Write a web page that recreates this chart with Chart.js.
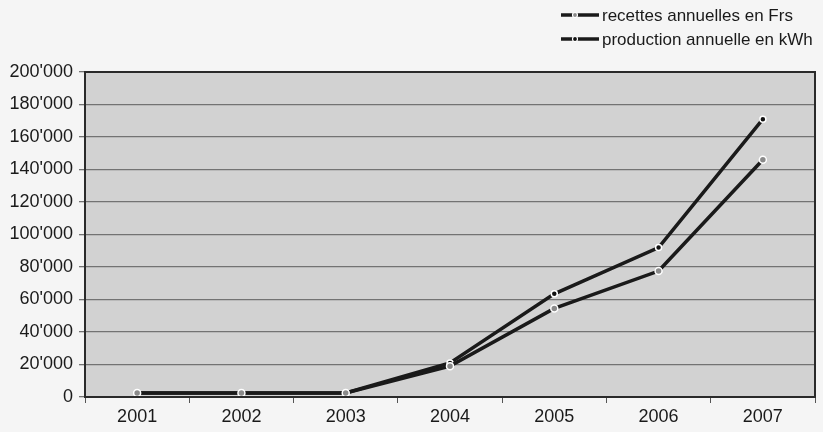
<!DOCTYPE html>
<html>
<head>
<meta charset="utf-8">
<script src="https://cdn.jsdelivr.net/npm/chart.js@4/dist/chart.umd.min.js"></script>
<style>
  html, body { margin: 0; padding: 0; background: #f5f5f5; }
  #wrap { width: 823px; height: 432px; }
</style>
</head>
<body>
<div id="wrap"><canvas id="chart" width="823" height="432"></canvas></div>
<script>
const years = ["2001", "2002", "2003", "2004", "2005", "2006", "2007"];
const recettes = [2500, 2500, 2500, 19000, 54500, 77500, 146000];
const production = [2500, 2500, 2500, 21000, 63500, 92000, 171000];
const seriesNames = ["recettes annuelles en Frs", "production annuelle en kWh"];
const yMax = 200000;
const yStep = 20000;

// 200000 -> 200'000
const fmt = (v) => v.toString().replace(/\B(?=(\d{3})+(?!\d))/g, "'");

// plot background + frame
const plotFrame = {
  id: "plotFrame",
  beforeDraw(chart) {
    const { ctx, chartArea: a } = chart;
    ctx.save();
    ctx.fillStyle = "#d2d2d2";
    ctx.fillRect(a.left, a.top, a.right - a.left, a.bottom - a.top);
    ctx.restore();
  },
  afterDatasetsDraw(chart) {
    const { ctx, chartArea: a } = chart;
    ctx.save();
    ctx.strokeStyle = "#2a2a2a";
    ctx.lineWidth = 2;
    ctx.strokeRect(a.left, a.top, a.right - a.left, a.bottom - a.top);
    ctx.restore();
  },
};

// legend stacked in two rows top right
const stackedLegend = {
  id: "stackedLegend",
  afterDraw(chart) {
    const { ctx } = chart;
    ctx.save();
    ctx.font = "17px 'Liberation Sans', Arial, sans-serif";
    ctx.textBaseline = "middle";
    chart.data.datasets.forEach((ds, i) => {
      const y = 15 + i * 24;
      ctx.strokeStyle = ds.borderColor;
      ctx.lineWidth = 3.5;
      ctx.beginPath();
      ctx.moveTo(561, y);
      ctx.lineTo(599, y);
      ctx.stroke();
      ctx.beginPath();
      ctx.arc(575, y, 2.5, 0, Math.PI * 2);
      ctx.fillStyle = ds.pointBackgroundColor;
      ctx.fill();
      ctx.lineWidth = 1.2;
      ctx.strokeStyle = "#ffffff";
      ctx.stroke();
      ctx.fillStyle = "#1a1a1a";
      ctx.fillText(ds.label, 602, y + 1);
    });
    ctx.restore();
  },
};

const ctx = document.getElementById("chart").getContext("2d");

new Chart(ctx, {
  type: "line",
  data: {
    labels: years,
    datasets: [
      {
        label: seriesNames[0],
        data: recettes,
        borderColor: "#1a1a1a",
        borderWidth: 3.5,
        pointRadius: 3.5,
        pointBackgroundColor: "#8a8a8a",
        pointBorderColor: "#ffffff",
        pointBorderWidth: 1.5,
        tension: 0,
        fill: false,
      },
      {
        label: seriesNames[1],
        data: production,
        borderColor: "#1a1a1a",
        borderWidth: 3.5,
        pointRadius: 3,
        pointBackgroundColor: "#111111",
        pointBorderColor: "#ffffff",
        pointBorderWidth: 1.5,
        tension: 0,
        fill: false,
      },
    ],
  },
  options: {
    responsive: false,
    animation: false,
    layout: { padding: { top: 72, right: 8, left: 0, bottom: 0 } },
    plugins: {
      legend: { display: false },
      tooltip: { enabled: false },
    },
    scales: {
      x: {
        offset: true,
        grid: {
          offset: true,
          drawOnChartArea: false,
          color: "#555555",
          tickLength: 6,
        },
        border: { display: false },
        ticks: {
          color: "#1a1a1a",
          padding: 3,
          font: { family: "'Liberation Sans', Arial, sans-serif", size: 18 },
        },
        afterFit(scale) {
          scale.height = 35;
        },
      },
      y: {
        min: 0,
        max: yMax,
        grid: {
          color: "#737373",
          lineWidth: 1.3,
          tickLength: 6,
        },
        border: { display: false },
        ticks: {
          stepSize: yStep,
          color: "#1a1a1a",
          padding: 6,
          font: { family: "'Liberation Sans', Arial, sans-serif", size: 18 },
          callback: (v) => fmt(v),
        },
        afterFit(scale) {
          scale.width = 85;
        },
      },
    },
  },
  plugins: [plotFrame, stackedLegend],
});
</script>
</body>
</html>
